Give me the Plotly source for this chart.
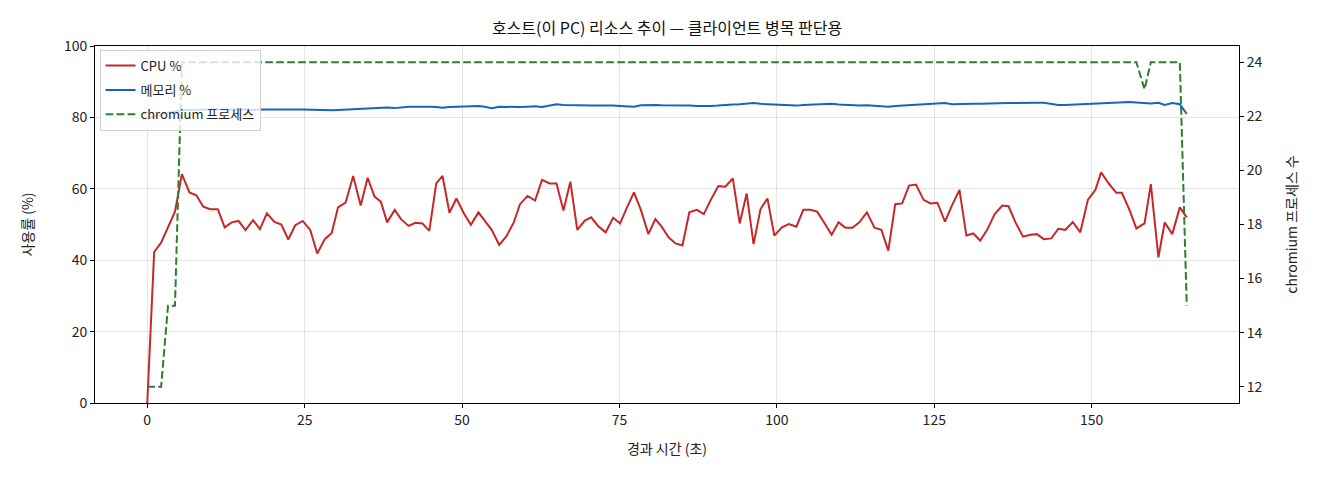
import plotly.graph_objects as go

# elapsed seconds for each sample
elapsed = [
    0.0, 1.1, 2.2, 3.3, 4.4, 5.5, 6.7, 7.8, 8.9, 10.0,
    11.2, 12.3, 13.4, 14.5, 15.6, 16.8, 17.9, 19.0, 20.2, 21.3,
    22.4, 23.5, 24.7, 25.9, 27.0, 28.2, 29.3, 30.3, 31.5, 32.7,
    33.9, 35.0, 36.1, 37.1, 38.1, 39.3, 40.3, 41.5, 42.6, 43.7,
    44.8, 45.9, 46.9, 48.0, 49.1, 50.3, 51.4, 52.6, 53.6, 54.7,
    55.9, 57.0, 58.2, 59.2, 60.4, 61.6, 62.7, 63.9, 65.0, 66.1,
    67.2, 68.3, 69.5, 70.5, 71.6, 72.8, 74.0, 75.1, 76.2, 77.3,
    78.4, 79.6, 80.7, 81.7, 82.8, 83.9, 85.0, 86.1, 87.3, 88.4,
    89.5, 90.7, 91.8, 93.0, 94.1, 95.2, 96.3, 97.4, 98.5, 99.6,
    100.8, 101.9, 103.1, 104.2, 105.3, 106.4, 107.6, 108.7, 109.8, 110.9,
    112.0, 113.1, 114.3, 115.5, 116.6, 117.7, 118.8, 119.9, 121.0, 122.1,
    123.3, 124.4, 125.5, 126.7, 127.8, 129.0, 130.1, 131.2, 132.3, 133.4,
    134.6, 135.8, 136.8, 137.9, 139.1, 140.3, 141.3, 142.4, 143.6, 144.7,
    145.8, 147.0, 148.2, 149.4, 150.6, 151.5, 152.7, 153.9, 154.8, 156.0,
    157.1, 158.4, 159.4, 160.6, 161.6, 162.8, 164.0, 165.1,
]

cpu = [
    0, 42.3, 44.9, 49.1, 53.6, 64.1, 59.0, 58.2, 55.0, 54.3,
    54.3, 49.2, 50.6, 51.0, 48.4, 51.2, 48.7, 53.1, 50.7, 50.0,
    45.8, 49.8, 51.0, 48.4, 41.9, 45.9, 47.6,
    54.8, 56.1, 63.6, 55.3, 63.1, 57.8, 56.4, 50.6, 54.1, 51.5,
    49.6, 50.5, 50.3, 48.2, 61.5, 63.6, 53.3, 57.3, 53.1, 49.9,
    53.4, 51.0, 48.5, 44.3, 46.6, 50.5, 55.7, 58.0, 56.7, 62.5,
    61.5, 61.5, 53.9, 62.0, 48.5, 51.1, 52.0, 49.6, 47.8, 51.9, 50.3,
    54.8, 59.0, 54.1, 47.3, 51.5, 49.4, 46.4, 44.7, 44.1, 53.4,
    54.1, 52.9, 56.9, 60.8, 60.6, 62.9, 50.3, 58.7, 44.5, 54.3,
    57.3, 46.9, 49.2, 50.1, 49.4, 54.1, 54.1, 53.6, 50.3, 47.1,
    50.6, 49.1, 49.1, 50.6, 53.4, 49.1, 48.5, 42.7, 55.7, 55.9,
    60.9, 61.2,
    56.9, 55.9, 56.1, 50.8, 55.3, 59.7, 46.9, 47.5, 45.5, 48.5,
    52.9, 55.3, 55.1, 50.6, 46.6, 47.1, 47.3, 45.9, 46.1, 48.8,
    48.5, 50.7, 47.8, 56.9, 59.7, 64.6, 61.5, 58.9, 58.9, 54.1,
    48.9, 50.3, 61.3, 40.8, 50.6, 47.3, 54.8, 52.0,
]

memory = [
    79.6, 80.3, 80.8, 81.3, 81.7, 82.0,
    82.1, 82.2, 82.1, 82.2, 82.2, 82.1, 82.2, 82.3, 82.2, 82.1,
    82.2, 82.1, 82.2, 82.2, 82.1, 82.2, 82.2, 82.1, 82.0, 81.9, 82.0,
    82.1, 82.2, 82.3, 82.4, 82.5, 82.6, 82.7, 82.8, 82.6, 82.8,
    83.0, 83.0, 83.1, 83.0, 82.9, 82.7, 82.9, 83.0, 83.0, 83.1,
    83.2, 83.0, 82.6, 83.0, 82.9, 82.8, 82.9, 83.0, 83.1, 82.9,
    83.4, 83.7, 83.5, 83.4, 83.5, 83.4, 83.3, 83.3, 83.4, 83.3,
    83.2, 83.1, 83.0, 83.4, 83.5, 83.5, 83.4, 83.4, 83.5, 83.4,
    83.3, 83.2, 83.3, 83.2, 83.3, 83.5, 83.6, 83.7, 83.9, 84.0,
    83.8, 83.7, 83.8, 83.6, 83.4, 83.3, 83.5, 83.6, 83.5, 83.7,
    83.8, 83.6, 83.5, 83.2, 83.3, 83.4, 83.2, 83.1, 83.0, 83.2,
    83.3, 83.4, 83.6, 83.7, 83.8, 83.9, 84.0, 83.7, 83.8, 83.9,
    83.8, 83.8, 83.9, 83.9, 84.0, 84.0, 84.0, 84.1, 84.1, 84.1,
    84.1, 83.7, 83.5, 83.5, 83.6, 83.5, 83.7, 83.8, 83.9, 84.0,
    84.1, 84.2, 84.3, 84.2, 84.1, 83.9, 84.1, 83.5, 84.0, 83.7, 81.0,
]

chromium = [12, 12, 12, 15, 15] + [24] * 136 + [23] + [24] * 5 + [15]

FONT = "Noto Sans CJK KR, DejaVu Sans, sans-serif"

fig = go.Figure()
fig.add_trace(go.Scatter(x=elapsed, y=cpu, mode="lines", name="CPU %",
                         legendgroup="cpu",
                         line=dict(color="#c62828", width=2)))
fig.add_trace(go.Scatter(x=elapsed, y=memory, mode="lines", name="메모리 %",
                         legendgroup="mem",
                         line=dict(color="#1565c0", width=2)))
fig.add_trace(go.Scatter(x=elapsed, y=chromium, mode="lines", name="chromium 프로세스",
                         yaxis="y2", legendgroup="proc",
                         line=dict(color="#2e7d32", width=2, dash="7.7px,3.3px")))

axis_common = dict(showline=True, linecolor="black", linewidth=1,
                   ticks="outside", ticklen=4, tickcolor="black",
                   tickfont=dict(size=14, color="#222"), zeroline=False,
                   automargin=False)

# the page body adds 8px around the figure, so margins are offset to match
fig.update_layout(
    width=1320, height=480,
    margin=dict(l=87, r=89, t=38, b=85),
    plot_bgcolor="white", paper_bgcolor="white",
    font=dict(family=FONT, color="#222"),
    title=dict(text="호스트(이 PC) 리소스 추이 — 클라이언트 병목 판단용",
               x=0.5, xanchor="center", xref="paper",
               y=1 - 20 / 480, yref="container", yanchor="middle",
               font=dict(size=16, color="#111")),
    xaxis=dict(range=[-8.3, 173.4], tickvals=[0, 25, 50, 75, 100, 125, 150],
               showgrid=True, gridcolor="rgba(0,0,0,0.1)", mirror=True,
               title=dict(text="경과 시간 (초)", font=dict(size=14), standoff=16),
               **axis_common),
    yaxis=dict(range=[0, 100], tickvals=[0, 20, 40, 60, 80, 100],
               showgrid=True, gridcolor="rgba(0,0,0,0.1)",
               title=dict(text="사용률 (%)", font=dict(size=14), standoff=26),
               **axis_common),
    yaxis2=dict(range=[11.4, 24.6], tickvals=[12, 14, 16, 18, 20, 22, 24],
                overlaying="y", side="right", showgrid=False,
                title=dict(text="chromium 프로세스 수", font=dict(size=14), standoff=25),
                **axis_common),
    legend=dict(x=0.004, y=0.99, xanchor="left", yanchor="top",
                bgcolor="rgba(255,255,255,0.8)", bordercolor="#d0d0d0",
                borderwidth=1, font=dict(size=13), tracegroupgap=4.5,
                itemwidth=30),
    showlegend=True,
)

fig.write_html("out.html")
